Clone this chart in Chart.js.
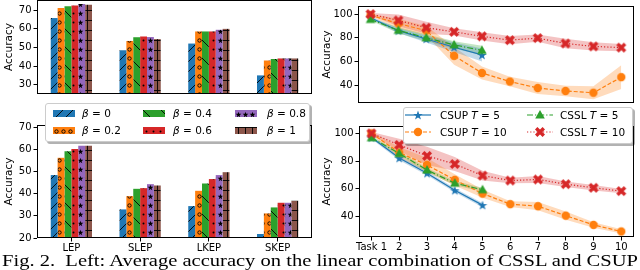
<!DOCTYPE html>
<html lang="en">
<head>
<meta charset="UTF-8">
<title>Fig. 2 - accuracy</title>
<script src="https://cdn.jsdelivr.net/npm/chart.js@4/dist/chart.umd.min.js"></script>
<style>
    body {
        margin: 0;
        width: 640px;
        height: 270px;
        position: relative;
        overflow: hidden;
        background: #fff;
        font-family: "DejaVu Sans", sans-serif;
        color: #000;
    }
    canvas { position: absolute; }
    .legend {
        position: absolute;
        background: #fff;
        border: 1px solid #ccc;
        border-radius: 3px;
        box-shadow: 2px 2px 0 rgba(0,0,0,0.3);
        box-sizing: border-box;
    }
    .lab {
        position: absolute;
        height: 14px;
        line-height: 14px;
        font-size: 10.5px;
        white-space: nowrap;
    }
    #caption {
        position: absolute;
        left: 2px;
        top: 252px;
        font-family: "Liberation Serif", serif;
        font-size: 17px;
        line-height: 17px;
        white-space: pre;
        transform-origin: 0 0;
    }
</style>
</head>
<body>
<canvas id="barTop" width="320" height="111" style="left:0;top:0"></canvas>
<canvas id="barBottom" width="320" height="135" style="left:0;top:120px"></canvas>
<canvas id="lineTop" width="320" height="109" style="left:320px;top:0"></canvas>
<canvas id="lineBottom" width="320" height="135" style="left:320px;top:120px"></canvas>
<div class="legend" style="left:45px;top:103px;width:265px;height:39px"></div>
<div class="legend" style="left:403px;top:107px;width:230px;height:37px"></div>
<div id="legendItems"></div>
<div id="caption">Fig. 2.  Left: Average accuracy on the linear combination of CSSL and CSUP</div>

<script>
    // ---- left: bars, one row per beta, one value per group ----
    const groups = ['LEP', 'SLEP', 'LKEP', 'SKEP'];
    const betaLabels = ['0', '0.2', '0.4', '0.6', '0.8', '1'];
    const barsTop = [
        [65.8, 48.5, 52.1, 35.0],
        [71.2, 53.5, 58.6, 43.0],
        [72.1, 55.5, 58.6, 43.8],
        [72.6, 55.9, 58.6, 44.1],
        [73.3, 55.6, 59.5, 44.1],
        [72.9, 54.5, 60.0, 44.1]
    ];
    const barsBottom = [
        [48.4, 32.9, 34.4, 21.8],
        [56.2, 38.9, 41.3, 31.1],
        [59.2, 42.2, 44.6, 33.8],
        [60.2, 42.5, 46.6, 35.9],
        [61.6, 44.3, 48.4, 35.9],
        [61.6, 43.7, 49.7, 36.8]
    ];
    const barTicksTop = [30, 40, 50, 60, 70];
    const barTicksBottom = [20, 30, 40, 50, 60, 70];

    // ---- right: accuracy per task, mean and spread ----
    const tasks = [1, 2, 3, 4, 5, 6, 7, 8, 9, 10];
    const taskLabels = ['Task 1', '2', '3', '4', '5', '6', '7', '8', '9', '10'];
    const lineTicks = [40, 60, 80, 100];

    const topCsup5 = [97, 86, 79, 72, 65.5];
    const topCsup5Sd = [1, 2, 3, 4, 5.5];
    const topCsup10 = [99, 92, 86, 64.7, 50.2, 43, 37.5, 35, 33.5, 46.7];
    const topCsup10Sd = [1, 4, 4, 7.5, 5.5, 4, 5, 4.5, 5.5, 10];
    const topCssl5 = [95.5, 86.3, 80, 74, 69.3];
    const topCssl5Sd = [1, 2.5, 3, 3, 4];
    const topCssl10 = [100, 94.7, 88.5, 85, 81.2, 78, 79.7, 75.2, 72.7, 71.7];
    const topCssl10Sd = [1, 5, 5, 3, 3.5, 3.5, 3, 4, 3.5, 3];

    const botCsup5 = [97, 82.2, 71.3, 59, 48.3];
    const botCsup5Sd = [1, 1.5, 1.5, 1.5, 1.5];
    const botCsup10 = [100, 86.2, 77.2, 66.5, 56.6, 49, 47.5, 40.7, 34, 29.3];
    const botCsup10Sd = [1, 4, 5, 4, 3, 2, 3, 3, 2, 1.5];
    const botCssl5 = [96.9, 85.5, 73.6, 64.1, 59.4];
    const botCssl5Sd = [1, 1.5, 1.5, 1.5, 1.5];
    const botCssl10 = [100, 91.7, 83.8, 77.9, 69.6, 66, 66.8, 63.4, 60.8, 58.4];
    const botCssl10Sd = [1, 4.5, 6.5, 5, 3.5, 2, 2.5, 2, 2, 1.5];

    const betaColors = ['#1f77b4', '#ff7f0e', '#2ca02c', '#d62728', '#9467bd', '#8c564b'];
    const betaHatch = ['slash', 'ring', 'back', 'dot', 'star', 'plus'];

    const series = [
        { name: 'CSUP', t: '5', color: '#1f77b4', rgb: '31,119,180', dash: [], marker: 'star', order: 4 },
        { name: 'CSUP', t: '10', color: '#ff7f0e', rgb: '255,127,14', dash: [4, 2], marker: 'circle', order: 3 },
        { name: 'CSSL', t: '5', color: '#2ca02c', rgb: '44,160,44', dash: [6, 2, 1.2, 2], marker: 'triangle', order: 2 },
        { name: 'CSSL', t: '10', color: '#d62728', rgb: '214,39,40', dash: [1.2, 2], marker: 'x', order: 1 }
    ];

    Chart.defaults.font.family = "'DejaVu Sans', sans-serif";
    Chart.defaults.font.size = 10;
    Chart.defaults.color = '#000';
    Chart.defaults.animation = false;

    function starPath(g, cx, cy, R, r) {
        g.beginPath();
        for (let i = 0; i < 10; i++) {
            const a = -Math.PI / 2 + i * Math.PI / 5;
            const rad = i % 2 ? r : R;
            g.lineTo(cx + rad * Math.cos(a), cy + rad * Math.sin(a));
        }
        g.closePath();
    }

    function hatch(color, kind) {
        const dims = { slash: [10, 10], ring: [7, 9], back: [18, 18], dot: [7, 9], star: [7, 9], plus: [7, 10] };
        const [w, h] = dims[kind];
        const c = document.createElement('canvas');
        c.width = w; c.height = h;
        const g = c.getContext('2d');
        g.fillStyle = color;
        g.fillRect(0, 0, w, h);
        g.strokeStyle = '#000';
        g.fillStyle = '#000';
        g.lineWidth = 0.9;
        g.beginPath();
        if (kind === 'slash') {
            for (const o of [-w, 0, w]) { g.moveTo(o, h); g.lineTo(o + w, 0); }
            g.stroke();
        } else if (kind === 'back') {
            for (const o of [-w, 0, w]) { g.moveTo(o, 0); g.lineTo(o + w, h); }
            g.stroke();
        } else if (kind === 'ring') {
            g.arc(w / 2, h / 2, 1.7, 0, 2 * Math.PI);
            g.stroke();
        } else if (kind === 'dot') {
            g.arc(w / 2, h / 2, 1, 0, 2 * Math.PI);
            g.fill();
        } else if (kind === 'star') {
            starPath(g, w / 2, h / 2 + 0.3, 3, 1.2);
            g.fill();
        } else if (kind === 'plus') {
            g.moveTo(0, 0.5); g.lineTo(w, 0.5);
            g.moveTo(w / 2, 0); g.lineTo(w / 2, h);
            g.stroke();
        }
        return g.createPattern(c, 'repeat');
    }

    function drawMarker(g, kind, x, y, color) {
        g.fillStyle = color;
        g.strokeStyle = color;
        if (kind === 'star') {
            starPath(g, x, y + 0.5, 5, 2);
            g.fill();
        } else if (kind === 'circle') {
            g.beginPath();
            g.arc(x, y, 4.2, 0, 2 * Math.PI);
            g.fill();
        } else if (kind === 'triangle') {
            g.beginPath();
            g.moveTo(x, y - 5);
            g.lineTo(x + 4.8, y + 3.5);
            g.lineTo(x - 4.8, y + 3.5);
            g.closePath();
            g.fill();
        } else if (kind === 'x') {
            g.lineWidth = 3.4;
            g.beginPath();
            g.moveTo(x - 3.8, y - 3.8); g.lineTo(x + 3.8, y + 3.8);
            g.moveTo(x + 3.8, y - 3.8); g.lineTo(x - 3.8, y + 3.8);
            g.stroke();
        }
    }

    function markerCanvas(kind, color) {
        const c = document.createElement('canvas');
        c.width = 12; c.height = 12;
        drawMarker(c.getContext('2d'), kind, 6, 6, color);
        return c;
    }

    const barFills = betaColors.map((c, i) => hatch(c, betaHatch[i]));

    // all four spines
    const frame = {
        id: 'frame',
        afterDraw(chart) {
            const a = chart.chartArea;
            const ctx = chart.ctx;
            ctx.save();
            ctx.strokeStyle = '#000';
            ctx.lineWidth = 1;
            const l = Math.round(a.left) + 0.5, t = Math.round(a.top) + 0.5;
            const r = Math.round(a.right) - 0.5, b = Math.round(a.bottom) - 0.5;
            ctx.strokeRect(l, t, r - l, b - t);
            ctx.restore();
        }
    };

    function fixAxis(size, isY) {
        return function (scale) {
            if (isY) scale.width = size; else scale.height = size;
            scale.paddingTop = 0;
            scale.paddingBottom = 0;
            scale.paddingLeft = 0;
            scale.paddingRight = 0;
        };
    }

    const tickGrid = { drawOnChartArea: false, tickLength: 3.5, color: '#000', lineWidth: 1 };

    function yAxis(min, max, ticks, width, titlePad) {
        return {
            min: min,
            max: max,
            afterBuildTicks: s => { s.ticks = ticks.map(v => ({ value: v })); },
            grid: tickGrid,
            border: { display: false },
            ticks: { padding: 2, font: { size: 10 } },
            title: { display: true, text: 'Accuracy', font: { size: 10.5 }, padding: { top: titlePad, bottom: 0 } },
            afterFit: fixAxis(width, true)
        };
    }

    function barChart(id, rows, ticks, yMin, yMax, showX, padTop) {
        new Chart(document.getElementById(id), {
            type: 'bar',
            data: {
                labels: groups,
                datasets: rows.map((r, i) => ({
                    label: 'β = ' + betaLabels[i],
                    data: r,
                    backgroundColor: barFills[i],
                    borderWidth: 0,
                    categoryPercentage: 0.6,
                    barPercentage: 1
                }))
            },
            options: {
                responsive: false,
                events: [],
                layout: { padding: { top: padTop, right: 8, left: 0, bottom: 0 } },
                plugins: { legend: { display: false }, tooltip: { enabled: false } },
                scales: {
                    x: {
                        display: showX,
                        offset: true,
                        grid: Object.assign({ offset: false }, tickGrid),
                        border: { display: false },
                        ticks: { padding: 1, font: { size: 10 }, maxRotation: 0, minRotation: 0, autoSkip: false },
                        afterFit: fixAxis(17, false)
                    },
                    y: yAxis(yMin, yMax, ticks, 37, 3)
                }
            },
            plugins: [frame]
        });
    }

    function lineChart(id, sets, yMin, yMax, showX, padTop, yWidth, xHeight) {
        const datasets = [];
        sets.forEach(([vals, sd], k) => {
            const s = series[k];
            const pts = f => vals.map((v, i) => ({ x: tasks[i], y: f(v, sd[i]) }));
            datasets.push({ data: pts((v, d) => v + d), borderWidth: 0, borderColor: 'rgba(0,0,0,0)', pointRadius: 0, fill: false, order: 10 });
            datasets.push({ data: pts((v, d) => v - d), borderWidth: 0, borderColor: 'rgba(0,0,0,0)', pointRadius: 0, fill: '-1', backgroundColor: 'rgba(' + s.rgb + ',0.28)', order: 10 });
        });
        sets.forEach(([vals], k) => {
            const s = series[k];
            datasets.push({
                label: s.name + ' T = ' + s.t,
                data: vals.map((v, i) => ({ x: tasks[i], y: v })),
                borderColor: s.color,
                backgroundColor: s.color,
                borderWidth: 1.2,
                borderDash: s.dash,
                pointStyle: markerCanvas(s.marker, s.color),
                pointRadius: 5,
                fill: false,
                order: s.order
            });
        });
        new Chart(document.getElementById(id), {
            type: 'line',
            data: { datasets: datasets },
            options: {
                responsive: false,
                events: [],
                layout: { padding: { top: padTop, right: 5, left: 0, bottom: 0 } },
                elements: { line: { tension: 0 } },
                plugins: { legend: { display: false }, tooltip: { enabled: false } },
                scales: {
                    x: {
                        type: 'linear',
                        display: showX,
                        min: 0.55,
                        max: 10.45,
                        afterBuildTicks: sc => { sc.ticks = tasks.map(v => ({ value: v })); },
                        grid: tickGrid,
                        border: { display: false },
                        ticks: {
                            padding: 1, font: { size: 10 },
                            maxRotation: 0, minRotation: 0, autoSkip: false,
                            callback: v => taskLabels[v - 1]
                        },
                        afterFit: fixAxis(xHeight, false)
                    },
                    y: yAxis(yMin, yMax, lineTicks, yWidth, 0.7)
                }
            },
            plugins: [frame]
        });
    }

    barChart('barTop', barsTop, barTicksTop, 25, 75.5, false, 0);
    barChart('barBottom', barsBottom, barTicksBottom, 20, 71, true, 5);

    lineChart('lineTop', [[topCsup5, topCsup5Sd], [topCsup10, topCsup10Sd], [topCssl5, topCssl5Sd], [topCssl10, topCssl10Sd]],
        25, 106.7, false, 0, 38, 1);
    lineChart('lineBottom', [[botCsup5, botCsup5Sd], [botCsup10, botCsup10Sd], [botCssl5, botCssl5Sd], [botCssl10, botCssl10Sd]],
        25.3, 105.2, true, 5, 39, 18);

    // ---- legends ----
    const items = document.getElementById('legendItems');

    function addText(html, x, y) {
        const d = document.createElement('div');
        d.className = 'lab';
        d.style.left = x + 'px';
        d.style.top = (y - 7) + 'px';
        d.innerHTML = html;
        items.appendChild(d);
    }

    function addCanvas(x, y, w, h) {
        const c = document.createElement('canvas');
        c.width = w; c.height = h;
        c.style.left = x + 'px';
        c.style.top = y + 'px';
        items.appendChild(c);
        return c.getContext('2d');
    }

    const patchX = [53, 143, 235];
    const betaTextX = [82, 173, 267];
    const betaRowY = [113, 130];
    betaLabels.forEach((b, i) => {
        const col = Math.floor(i / 2), row = i % 2;
        const g = addCanvas(patchX[col], betaRowY[row] - 3.5, 22, 7);
        g.fillStyle = barFills[i];
        g.fillRect(0, 0, 22, 7);
        addText('<i>β</i> = ' + b, betaTextX[col], betaRowY[row]);
    });

    const handleX = [405, 527];
    const seriesTextX = [440, 560];
    const seriesRowY = [115, 132];
    series.forEach((s, i) => {
        const col = Math.floor(i / 2), row = i % 2;
        const g = addCanvas(handleX[col], seriesRowY[row] - 7, 26, 14);
        g.strokeStyle = s.color;
        g.lineWidth = 1.2;
        g.setLineDash(s.dash);
        g.beginPath();
        g.moveTo(0, 7);
        g.lineTo(26, 7);
        g.stroke();
        g.setLineDash([]);
        drawMarker(g, s.marker, 13, 7, s.color);
        addText(s.name + ' <i>T</i> = ' + s.t, seriesTextX[col], seriesRowY[row]);
    });

    // caption is stretched to the full width like in the paper
    const cap = document.getElementById('caption');
    const capW = cap.getBoundingClientRect().width;
    cap.style.transform = 'scaleX(' + (636 / capW) + ')';
</script>
</body>
</html>
